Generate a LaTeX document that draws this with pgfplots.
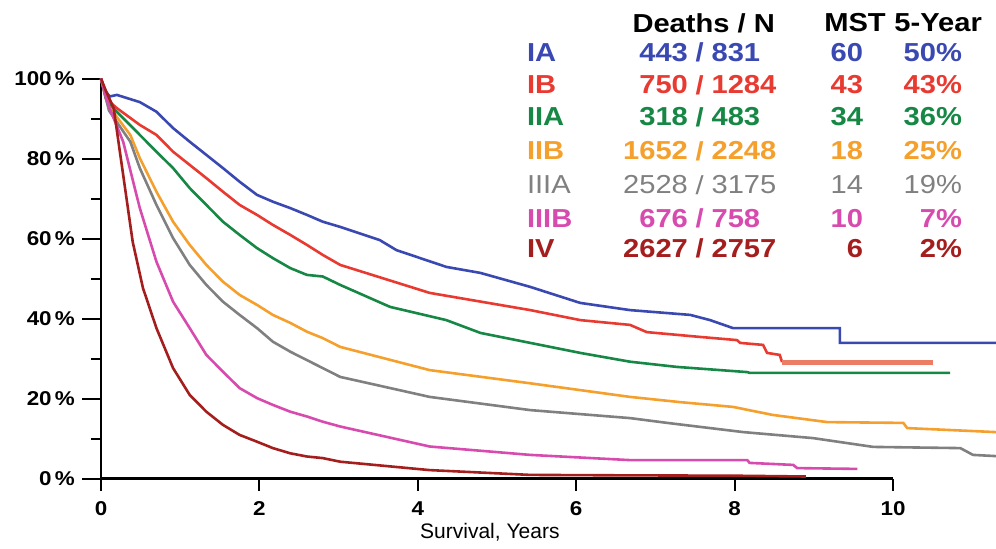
\documentclass[border=0pt]{standalone}
\usepackage{pgfplots}
\pgfplotsset{compat=1.18}
\usepackage{fontspec}
\setmainfont{Liberation Sans}
\newfontfamily\legfont[FakeStretch=1.12]{Liberation Sans}

\definecolor{cIA}{RGB}{58,72,178}
\definecolor{cIB}{RGB}{232,58,48}
\definecolor{cIBs}{RGB}{236,125,100}
\definecolor{cIIA}{RGB}{22,135,68}
\definecolor{cIIB}{RGB}{245,160,45}
\definecolor{cIIIA}{RGB}{128,128,128}
\definecolor{cIIIB}{RGB}{215,75,175}
\definecolor{cIV}{RGB}{165,30,30}

% one row of the table in the top right corner
\newcommand{\trow}[8]{%
  \node[anchor=west, text=#2, font=\legfont#8\fontsize{13}{14}\selectfont] at (axis cs:5.29,#1) {#3};
  \node[anchor=east, text=#2, font=\legfont#8\fontsize{13}{14}\selectfont] at (axis cs:7.50,#1) {#4};
  \node[text=#2, font=\legfont#8\fontsize{13}{14}\selectfont] at (axis cs:7.56,#1) {/};
  \node[anchor=west, text=#2, font=\legfont#8\fontsize{13}{14}\selectfont] at (axis cs:7.62,#1) {#5};
  \node[anchor=east, text=#2, font=\legfont#8\fontsize{13}{14}\selectfont] at (axis cs:9.71,#1) {#6};
  \node[anchor=east, text=#2, font=\legfont#8\fontsize{13}{14}\selectfont] at (axis cs:10.96,#1) {#7\%};
}

\begin{document}
\begin{tikzpicture}
\useasboundingbox (-50.5pt,-34.75pt) rectangle (447.5pt,239.25pt);
\begin{axis}[
    x=39.6pt, y=2pt,
    xmin=0, xmax=10, ymin=0, ymax=100,
    axis lines*=left,
    axis line style={line width=1.4pt},
    tick align=outside,
    major tick length=9.5pt,
    minor tick length=5pt,
    xtick style={/pgfplots/major tick length=6pt},
    tick style={line width=1pt, black},
    xtick={0,2,...,10},
    ytick={0,20,...,100},
    minor ytick={10,30,50,70,90},
    yticklabel={\pgfmathprintnumber{\tick}\,\%},
    /pgf/number format/assume math mode=true,
    ticklabel style={font=\legfont\bfseries\fontsize{10}{12}\selectfont},
    xticklabel style={yshift=1.5pt},
    clip=false,
    every axis plot/.append style={line width=1.3pt},
]
% IA
\addplot[cIA] coordinates {
 (0,100) (0.05,97) (0.11,95.5) (0.20,95.9) (0.49,94.1) (0.70,91.7) (0.91,87.6)
 (1.12,84.2) (1.33,80.9) (1.54,77.6) (1.75,74.2) (1.97,70.9) (2.17,69.2) (2.39,67.6)
 (2.60,65.9) (2.80,64.2) (3.02,62.9) (3.52,59.6) (3.73,57.1) (4.36,52.9) (4.79,51.4)
 (5.42,47.9) (6.05,43.9) (6.68,42.1) (7.44,40.9) (7.69,39.6) (7.98,37.6) (9.33,37.6)
 (9.33,33.9) (11.3,33.9)
};
% IB
\addplot[cIB] coordinates {
 (0,100) (0.06,95) (0.20,92.6) (0.49,88.4) (0.70,85.9) (0.91,81.7) (1.12,78.4)
 (1.33,75.1) (1.54,71.7) (1.75,68.4) (1.97,65.9) (2.17,63.4) (2.39,60.9) (2.60,58.4)
 (2.80,55.9) (3.02,53.4) (4.15,46.4) (5.42,42.1) (6.05,39.6) (6.68,38.4) (6.89,36.6)
 (7.56,35.4) (8.03,34.6) (8.07,33.9) (8.36,33.4) (8.41,31.4) (8.57,30.9) (8.60,29.1)
};
\addplot[cIBs, line width=2.5pt] coordinates {(8.60,29.1) (10.5,29.1)};
% IIA
\addplot[cIIA] coordinates {
 (0,100) (0.08,94) (0.28,90.1) (0.49,85.9) (0.70,81.7) (0.91,77.6) (1.12,72.6)
 (1.33,68.4) (1.54,64.2) (1.75,60.9) (1.97,57.6) (2.17,55.1) (2.39,52.6) (2.60,50.9)
 (2.80,50.5) (3.02,48.4) (3.65,42.9) (4.36,39.6) (4.79,36.4) (5.42,33.9) (6.05,31.4)
 (6.68,29.2) (7.27,27.9) (8.16,26.6) (8.19,26.4) (10.72,26.4)
};
% IIB
\addplot[cIIB] coordinates {
 (0,100) (0.10,93) (0.37,85.9) (0.49,80.1) (0.70,71.7) (0.91,64.2) (1.12,58.4)
 (1.33,53.4) (1.54,49.2) (1.75,45.9) (1.97,43.4) (2.17,40.9) (2.39,38.9) (2.60,36.7)
 (2.80,35.1) (3.02,32.9) (4.15,27.1) (5.42,23.8) (6.68,20.4) (7.31,19.1) (7.98,17.9)
 (8.48,15.9) (9.17,14.1) (10.13,13.9) (10.18,12.6) (11.3,11.6)
};
% IIIA
\addplot[cIIIA] coordinates {
 (0,100) (0.10,92) (0.37,84.2) (0.49,77.6) (0.70,68.4) (0.91,60.1) (1.12,53.4)
 (1.33,48.4) (1.54,44.2) (1.75,40.9) (1.97,37.6) (2.17,34.2) (2.39,31.7) (2.60,29.6)
 (2.80,27.6) (3.02,25.4) (4.15,20.4) (5.42,17.1) (6.68,15.1) (7.15,13.9) (8.11,11.6)
 (8.99,10.1) (9.75,7.9) (10.85,7.6) (11.01,5.9) (11.3,5.6)
};
% IIIB
\addplot[cIIIB] coordinates {
 (0,100) (0.10,93) (0.28,84.2) (0.49,67.6) (0.70,54.2) (0.91,44.2) (1.12,37.6)
 (1.33,30.9) (1.54,26.7) (1.75,22.6) (1.97,20.1) (2.17,18.4) (2.39,16.7) (2.60,15.5)
 (2.80,14.2) (3.02,13.0) (4.15,8.0) (5.42,5.9) (6.68,4.6) (8.16,4.6) (8.19,3.9)
 (8.74,3.4) (8.79,2.6) (9.55,2.4)
};
% IV
\addplot[cIV] coordinates {
 (0,100) (0.06,97) (0.16,92.6) (0.28,75.9) (0.40,59.2) (0.53,47.6) (0.70,37.6)
 (0.91,27.6) (1.12,20.9) (1.33,16.7) (1.54,13.4) (1.75,10.9) (1.97,9.2) (2.17,7.6)
 (2.39,6.3) (2.60,5.5) (2.80,5.1) (3.02,4.2) (4.15,2.1) (5.42,0.9) (6.5,0.8)
 (8.0,0.7) (8.9,0.5)
};

\node[font=\fontsize{10.5}{12}\selectfont] at (axis cs:4.91,0) [yshift=-27pt] {Survival, Years};

\node[font=\legfont\bfseries\fontsize{13}{14}\selectfont] at (axis cs:7.61,113.9) {Deaths / N};
\node[font=\legfont\bfseries\fontsize{13}{14}\selectfont] at (axis cs:9.52,113.9) {MST};
\node[font=\legfont\bfseries\fontsize{13}{14}\selectfont] at (axis cs:10.57,113.9) {5-Year};

\trow{106.6}{cIA}{IA}{443}{831}{60}{50}{\bfseries}
\trow{98.4}{cIB}{IB}{750}{1284}{43}{43}{\bfseries}
\trow{90.4}{cIIA}{IIA}{318}{483}{34}{36}{\bfseries}
\trow{81.9}{cIIB}{IIB}{1652}{2248}{18}{25}{\bfseries}
\trow{73.4}{cIIIA}{IIIA}{2528}{3175}{14}{19}{}
\trow{65.1}{cIIIB}{IIIB}{676}{758}{10}{7}{\bfseries}
\trow{57.6}{cIV}{IV}{2627}{2757}{6}{2}{\bfseries}
\end{axis}
\end{tikzpicture}
\end{document}
